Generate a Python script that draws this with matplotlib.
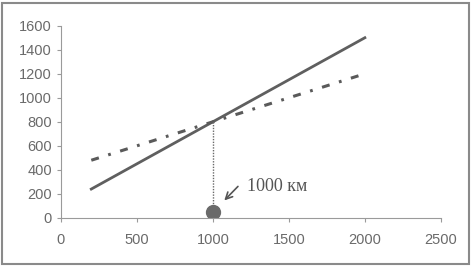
import matplotlib.pyplot as plt
from matplotlib.patches import Rectangle

# distance, km
distance = [200, 2000]
# cost of the two options at those distances
cost_solid = [240, 1500]
cost_dashdot = [480, 1200]

break_even_x = 1000
break_even_y = 810
marker_y = 50
label = "1000 км"

x_ticks = [0, 500, 1000, 1500, 2000, 2500]
y_ticks = [0, 200, 400, 600, 800, 1000, 1200, 1400, 1600]

fig = plt.figure(figsize=(4.72, 2.68), dpi=100)
ax = fig.add_axes([0.129, 0.187, 0.805, 0.717])

ax.plot(distance, cost_solid, color='#5f5f5f', lw=2.0)
ax.plot(distance, cost_dashdot, color='#5a5a5a', lw=2.2,
        dashes=(2.6, 3.2, 0.9, 3.2))

ax.plot([break_even_x, break_even_x], [marker_y, break_even_y],
        color='#6a6a6a', lw=1.0, ls=(0, (1, 1)))
ax.plot([break_even_x], [marker_y], 'o', color='#6a6a6a', ms=10)

# arrow pointing at the marker, then the label
ax.annotate('', xy=(1075, 145), xytext=(1165, 262),
            arrowprops=dict(arrowstyle='->', color='#555555', lw=1.2,
                            shrinkA=0, shrinkB=0,
                            mutation_scale=12))
ax.text(1225, 258, label, fontsize=13, family='Liberation Serif',
        color='#555555', va='center', ha='left')

ax.set_xlim(0, 2500)
ax.set_ylim(0, 1600)
ax.set_xticks(x_ticks)
ax.set_yticks(y_ticks)
for s in ['top', 'right']:
    ax.spines[s].set_visible(False)
for s in ['left', 'bottom']:
    ax.spines[s].set_color('#9a9a9a')
    ax.spines[s].set_linewidth(0.8)
ax.tick_params(colors='#9a9a9a', labelcolor='#6a6a6a', length=3,
               labelsize=10.5)
for t in ax.get_xticklabels() + ax.get_yticklabels():
    t.set_family('Liberation Sans')
ax.tick_params(axis='x', pad=8)

fig.patches.append(Rectangle((0.005, 0.015), 0.989, 0.975,
                             transform=fig.transFigure, fill=False,
                             edgecolor='#8a8a8a', lw=1.5))

fig.savefig('out.png', dpi=100)
